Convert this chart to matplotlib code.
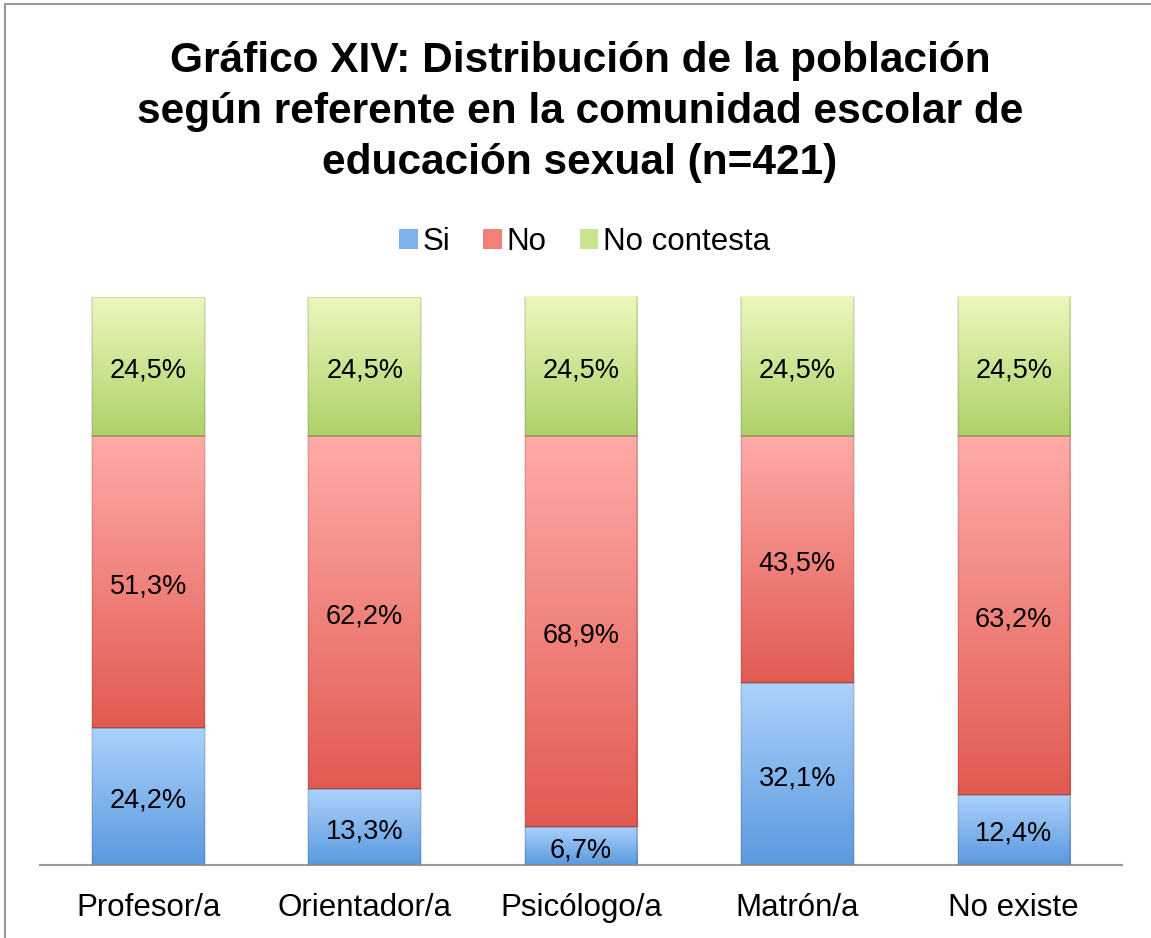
import numpy as np
import matplotlib.pyplot as plt
from matplotlib.colors import LinearSegmentedColormap
from matplotlib.patches import Rectangle, Patch

plt.rcParams['font.family'] = ['Liberation Sans', 'DejaVu Sans']

categories = ["Profesor/a", "Orientador/a", "Psicólogo/a", "Matrón/a", "No existe"]
si = [24.2, 13.3, 6.7, 32.1, 12.4]
no = [51.3, 62.2, 68.9, 43.5, 63.2]
no_contesta = [24.5, 24.5, 24.5, 24.5, 24.5]
series_names = ["Si", "No", "No contesta"]

# light (top) -> dark (bottom) for each series
grads = [("#acd2fb", "#5a99df"), ("#ffaba8", "#e15a51"), ("#ecf8bd", "#aed168")]
mids = ["#7fb2ec", "#f28079", "#c9e48e"]

fig = plt.figure(figsize=(11.51, 9.38), dpi=100)
ax = fig.add_axes([0.0348, 0.0778, 0.94, 0.6056])

w = 0.52
x = np.arange(len(categories))
bottom = np.zeros(len(categories))
for vals, (c1, c2) in zip([si, no, no_contesta], grads):
    cmap = LinearSegmentedColormap.from_list("g", [c2, c1])
    grad = np.linspace(0, 1, 256).reshape(-1, 1)
    bars = ax.bar(x, vals, w, bottom=bottom, color='none', edgecolor='none')
    for b, v, b0 in zip(bars, vals, bottom):
        im = ax.imshow(grad, cmap=cmap, origin='lower', aspect='auto',
                       extent=(b.get_x(), b.get_x() + w, b0, b0 + v), zorder=2)
        im.set_clip_path(b)
        ax.add_patch(Rectangle((b.get_x(), b0), w, v, fill=False,
                               edgecolor='#00000022', linewidth=1.2, zorder=3))
        ax.annotate(f"{v:.1f}%".replace('.', ','), (b.get_x() + w / 2, b0 + v / 2),
                    xytext=(0, -3), textcoords='offset points',
                    ha='center', va='center', fontsize=19.5, color='black', zorder=4)
    bottom += np.array(vals)

ax.set_xlim(-0.5, len(categories) - 0.5)
ax.set_ylim(0, 100)
for s in ['top', 'right', 'left']:
    ax.spines[s].set_visible(False)
ax.spines['bottom'].set_color('#999999')
ax.spines['bottom'].set_linewidth(1.5)
ax.set_yticks([])
ax.set_xticks(x)
ax.set_xticklabels(categories, fontsize=22.5)
ax.tick_params(axis='x', length=0, pad=20)

fig.text(0.504, 0.956, "Gráfico XIV: Distribución de la población\n"
         "según referente en la comunidad escolar de\neducación sexual (n=421)",
         ha='center', va='top', fontsize=30.5, fontweight='bold', linespacing=1.35)

handles = [Patch(facecolor=m, edgecolor='none') for m in mids]
fig.legend(handles, series_names, loc='center', bbox_to_anchor=(0.508, 0.742),
           ncol=3, frameon=False, fontsize=22.5, handlelength=0.6, handleheight=0.6,
           handletextpad=0.15, columnspacing=1.05)

fig.patches.append(Rectangle((5 / 1151, -0.1), 1.2, 1 - 4 / 938 + 0.1, fill=False,
                             edgecolor='#999999', linewidth=1.5,
                             transform=fig.transFigure, figure=fig))

fig.savefig("out.png", dpi=100)
